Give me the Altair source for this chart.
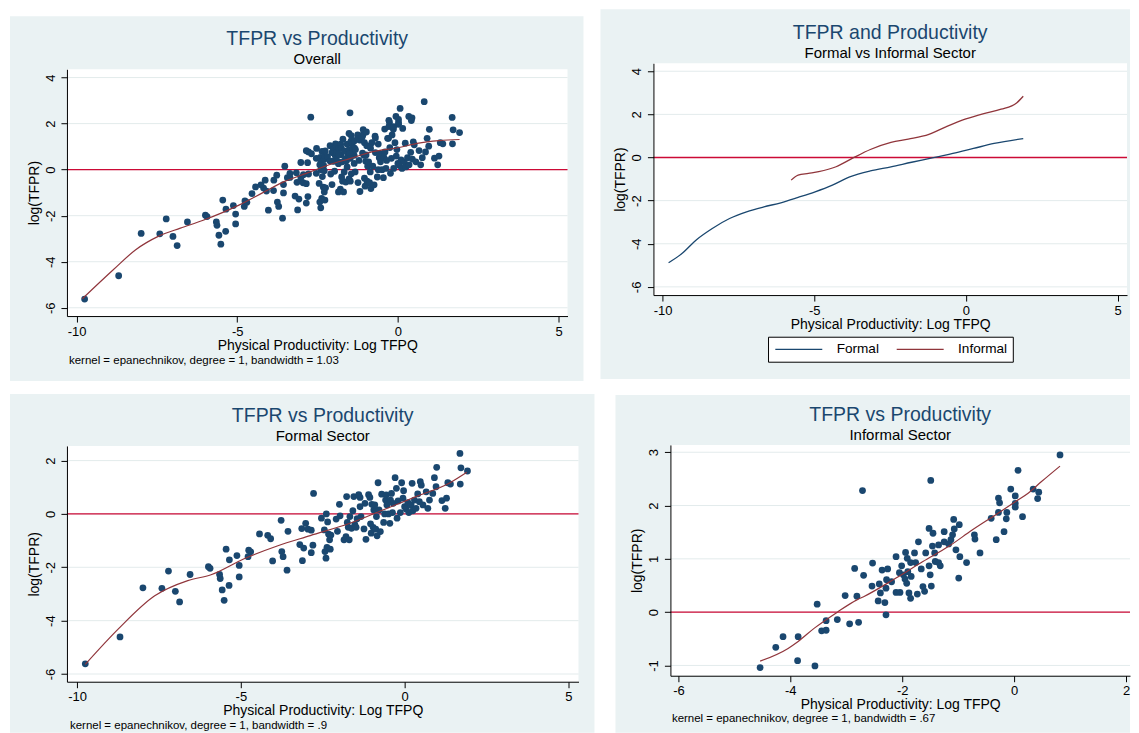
import altair as alt
import pandas as pd

# ---------------- data ----------------
FORMAL_X = [-9.75, -8.69, -7.99, -7.41, -7.21, -7.00, -6.87, -6.55, -5.99, -5.94, -5.65, -5.63,
            -5.57, -5.51, -5.45, -5.36, -5.35, -5.12, -5.05, -5.05, -4.78, -4.76, -4.70, -4.43,
            -4.18, -4.09, -4.03, -3.77, -3.75, -3.71, -3.59, -3.56, -3.20, -3.14, -3.12, -3.08,
            -3.02, -2.95, -2.85, -2.85, -2.80, -2.78, -2.54, -2.45, -2.43, -2.40, -2.39, -2.37,
            -2.35, -2.32, -2.29, -2.27, -2.25, -2.09, -2.05, -1.99, -1.97, -1.85, -1.79, -1.77,
            -1.75, -1.72, -1.69, -1.67, -1.62, -1.58, -1.55, -1.52, -1.48, -1.45, -1.40, -1.36,
            -1.36, -1.33, -1.24, -1.21, -1.18, -1.10, -1.06, -1.04, -1.02, -1.00, -0.96, -0.94,
            -0.91, -0.88, -0.86, -0.84, -0.81, -0.78, -0.74, -0.70, -0.64, -0.61, -0.58, -0.56,
            -0.54, -0.49, -0.45, -0.43, -0.40, -0.37, -0.35, -0.29, -0.25, -0.23, -0.20, -0.13,
            -0.09, -0.05, -0.03, 0.00, 0.05, 0.10, 0.13, 0.20, 0.23, 0.25, 0.30, 0.35, 0.40, 0.45,
            0.48, 0.51, 0.56, 0.66, 0.71, 0.76, 0.86, 0.91, 0.96, 0.98, 1.14, 1.24, 1.28, 1.32,
            1.40, 1.69, 1.70, 1.72, 1.92]
FORMAL_Y = [-5.62, -4.61, -2.77, -2.79, -2.14, -2.90, -3.30, -2.27, -1.98, -2.04, -2.27, -2.42,
            -2.85, -3.24, -1.32, -2.68, -1.72, -1.56, -1.93, -2.36, -1.60, -1.36, -1.42, -0.75,
            -0.80, -0.93, -1.76, -0.24, -1.41, -1.60, -2.11, -0.65, -1.15, -0.55, -1.75, -1.28,
            -0.35, -0.57, -0.61, -1.45, -1.17, 0.77, -0.16, -0.60, -1.41, -1.66, 0.00, -1.25,
            -0.30, -0.76, -0.97, -1.32, -0.79, -0.19, -0.65, 0.36, -0.07, -0.97, -0.85, 0.65,
            -0.32, -0.50, -0.97, -0.10, -0.54, 0.12, 0.65, -0.40, -0.50, -0.18, 0.72, 0.62,
            0.27, -0.10, -0.56, 0.40, -0.95, 0.72, 0.62, -0.37, -0.72, 0.36, -0.50, 0.15,
            0.34, -0.57, -0.10, -0.82, 1.17, 0.15, -0.66, 0.74, -0.32, 0.00, 0.52, 0.71,
            0.34, 0.00, -0.35, 0.52, 0.77, 0.05, 0.40, 1.36, 0.96, -0.16, 0.49, 0.05,
            1.17, 0.59, 0.87, 0.27, 0.18, 0.42, 0.05, 0.34, 1.15, 0.12, 0.52, 0.21, 0.75, 0.46,
            1.21, 1.08, 0.34, 0.83, 0.21, 0.52, 0.77, 1.36, 1.02, 1.75, 0.50, 0.21, 0.59, 1.17,
            1.12, 2.27, 1.12, 1.73, 1.61]

INFORMAL_X = [-4.54, -4.26, -4.13, -3.87, -3.86, -3.56, -3.52, -3.44, -3.36, -3.36, -3.16, -3.02,
              -2.94, -2.85, -2.81, -2.78, -2.71, -2.69, -2.53, -2.54, -2.43, -2.41, -2.39, -2.36,
              -2.31, -2.29, -2.29, -2.28, -2.26, -2.19, -2.11, -2.11, -2.04, -2.05, -2.01, -1.98,
              -1.95, -1.94, -1.92, -1.91, -1.90, -1.88, -1.85, -1.85, -1.84, -1.78, -1.76, -1.73,
              -1.71, -1.66, -1.63, -1.60, -1.58, -1.52, -1.52, -1.50, -1.48, -1.49, -1.46, -1.45,
              -1.42, -1.41, -1.35, -1.32, -1.35, -1.25, -1.25, -1.17, -1.13, -1.10, -1.07, -1.08,
              -1.04, -0.98, -0.97, -0.99, -0.85, -0.71, -0.70, -0.61, -0.41, -0.32, -0.28, -0.26,
              -0.28, -0.18, -0.14, -0.13, -0.06, 0.02, 0.02, 0.02, 0.07, 0.15, 0.34, 0.44, 0.42,
              0.82]
INFORMAL_Y = [-1.04, -0.66, -0.46, -0.91, -0.46, -1.01, 0.15, -0.35, -0.34, -0.16, -0.14, 0.31,
              -0.22, 0.82, 0.30, -0.19, 2.28, 0.69, 0.92, 0.49, 0.21, 0.53, 0.36, 0.79,
              0.18, -0.05, 0.45, 0.61, 0.81, 0.57, 1.04, 0.37, 0.37, 0.74, 0.87, 0.70,
              0.62, 1.12, 0.54, 1.01, 0.76, 0.36, 0.26, 0.93, 0.67, 1.11, 0.93, 0.34,
              1.32, 0.81, 0.48, 0.39, 1.11, 0.87, 1.57, 0.70, 0.49, 2.47, 1.24, 1.48,
              1.11, 0.95, 0.93, 0.87, 1.26, 1.51, 1.32, 1.28, 1.36, 1.45, 1.56, 1.74,
              1.17, 1.64, 1.04, 0.64, 0.93, 1.45, 1.37, 1.11, 1.76, 1.36, 2.14, 2.05,
              1.87, 1.51, 1.75, 1.87, 2.31, 2.18, 2.04, 1.97, 2.66, 1.79, 2.31, 2.25, 2.13,
              2.95]

# local-polynomial smooths
LOWESS_ALL_X = [-9.82, -8.85, -8.16, -7.46, -6.77, -6.08, -5.50, -4.93, -4.23, -3.54, -2.85,
                -2.16, -1.47, -0.78, 0.00, 0.60, 1.29, 1.92]
LOWESS_ALL_Y = [-5.61, -4.34, -3.48, -2.90, -2.54, -2.21, -1.89, -1.53, -1.02, -0.52, -0.16,
                0.20, 0.49, 0.78, 0.95, 1.14, 1.26, 1.31]
LOWESS_FORMAL_X = [-9.75, -8.74, -7.63, -6.62, -5.91, -4.90, -3.89, -2.88, -1.67, -0.66, 0.35,
                   1.36, 1.90]
LOWESS_FORMAL_Y = [-5.64, -4.31, -3.07, -2.50, -2.28, -1.68, -1.20, -0.81, -0.35, 0.15, 0.65,
                   1.15, 1.56]
LOWESS_INFORMAL_X = [-4.54, -4.04, -3.86, -3.57, -3.16, -2.81, -2.69, -2.11, -1.63, -1.16,
                     -0.75, -0.34, 0.02, 0.25, 0.49, 0.82]
LOWESS_INFORMAL_Y = [-0.92, -0.68, -0.55, -0.30, 0.00, 0.23, 0.29, 0.64, 0.95, 1.24,
                     1.54, 1.82, 2.07, 2.23, 2.45, 2.74]
CMP_FORMAL_X = [-9.80, -9.38, -8.87, -8.36, -7.79, -7.23, -6.66, -6.10, -5.53, -4.97, -4.40,
                -3.83, -3.15, -2.47, -1.79, -1.11, -0.43, 0.25, 0.93, 1.89]
CMP_FORMAL_Y = [-4.88, -4.48, -3.80, -3.29, -2.83, -2.52, -2.29, -2.10, -1.85, -1.59, -1.28,
                -0.90, -0.62, -0.43, -0.22, -0.02, 0.19, 0.42, 0.65, 0.88]
CMP_INFORMAL_X = [-5.76, -5.53, -5.19, -4.85, -4.28, -3.72, -3.15, -2.47, -1.90, -1.22, -0.66,
                  0.00, 0.59, 1.16, 1.67, 1.89]
CMP_INFORMAL_Y = [-1.05, -0.82, -0.74, -0.66, -0.43, -0.02, 0.37, 0.70, 0.85, 1.07, 1.42,
                  1.79, 2.04, 2.24, 2.53, 2.84]

SECTORS = ["Formal", "Informal"]
TICKS_X_WIDE = [-10, -5, 0, 5]
TICKS_Y_WIDE = [-6, -4, -2, 0, 2, 4]
TICKS_Y_FORMAL = [-6, -4, -2, 0, 2]
TICKS_X_INFORMAL = [-6, -4, -2, 0, 2]
TICKS_Y_INFORMAL = [-1, 0, 1, 2, 3]

TITLE_MAIN = "TFPR vs Productivity"
TITLE_CMP = "TFPR and Productivity"
SUB_ALL = "Overall"
SUB_CMP = "Formal vs Informal Sector"
SUB_FORMAL = "Formal Sector"
SUB_INFORMAL = "Informal Sector"
XTITLE = "Physical Productivity: Log TFPQ"
YTITLE = "log(TFPR)"
NOTE_ALL = "kernel = epanechnikov, degree = 1, bandwidth = 1.03"
NOTE_FORMAL = "kernel = epanechnikov, degree = 1, bandwidth = .9"
NOTE_INFORMAL = "kernel = epanechnikov, degree = 1, bandwidth = .67"

# ---------------- styling ----------------
NAVY = "#1A476F"
MAROON = "#90353B"
RED = "#CC0A36"
PANEL_BG = "#EAF2F3"
GRID = "#E3EBEC"
FONT = "Liberation Sans"

scatter_all = pd.DataFrame({"x": FORMAL_X + INFORMAL_X, "y": FORMAL_Y + INFORMAL_Y})
scatter_formal = pd.DataFrame({"x": FORMAL_X, "y": FORMAL_Y})
scatter_informal = pd.DataFrame({"x": INFORMAL_X, "y": INFORMAL_Y})
line_all = pd.DataFrame({"x": LOWESS_ALL_X, "y": LOWESS_ALL_Y})
line_formal = pd.DataFrame({"x": LOWESS_FORMAL_X, "y": LOWESS_FORMAL_Y})
line_informal = pd.DataFrame({"x": LOWESS_INFORMAL_X, "y": LOWESS_INFORMAL_Y})
line_cmp = pd.DataFrame({
    "x": CMP_FORMAL_X + CMP_INFORMAL_X,
    "y": CMP_FORMAL_Y + CMP_INFORMAL_Y,
    "sector": [SECTORS[0]] * len(CMP_FORMAL_X) + [SECTORS[1]] * len(CMP_INFORMAL_X),
})
one = pd.DataFrame({"k": [0]})


def x_axis(ticks, dy):
    return alt.Axis(values=ticks, grid=False, domainColor="black", domainWidth=1,
                    tickColor="black", tickSize=6, tickWidth=1, offset=dy,
                    labelFont=FONT, labelFontSize=13, labelColor="black", labelPadding=3,
                    labelExpr="'' + datum.value", labelFlush=False, labelOverlap=False,
                    title=XTITLE, titleFont=FONT, titleFontSize=14, titleFontWeight="normal",
                    titleColor="black", titlePadding=0, zindex=1)


def y_axis(ticks):
    return alt.Axis(values=ticks, grid=False, domainColor="black", domainWidth=1,
                    tickColor="black", tickSize=6, tickWidth=1,
                    labelFont=FONT, labelFontSize=13, labelColor="black", labelPadding=3.5,
                    labelAngle=270, labelAlign="center", labelBaseline="bottom",
                    labelExpr="'' + datum.value", labelFlush=False, labelOverlap=False,
                    title=YTITLE, titleFont=FONT, titleFontSize=14, titleFontWeight="normal",
                    titleColor="black", titlePadding=3, zindex=1)


def panel(w, h, dy, xdom, ydom, xticks, yticks, cell, bg, title, subtitle, layers_fn, note=None):
    # dy shifts the drawn plot relative to the view frame (rows share frame origins)
    xs = alt.Scale(domain=xdom, nice=False, zero=False)
    ys = alt.Scale(domain=ydom, nice=False, zero=False, range=[h + dy, dy])

    def X(f="x"):
        return alt.X(f + ":Q", scale=xs, axis=x_axis(xticks, dy))

    def Y(f="y"):
        return alt.Y(f + ":Q", scale=ys, axis=y_axis(yticks))

    cell_rect = alt.Chart(one).mark_rect(fill="white").encode(
        x=alt.value(cell[0]), x2=alt.value(cell[1]), y=alt.value(cell[2]), y2=alt.value(cell[3]))
    bg_rect = alt.Chart(one).mark_rect(fill=PANEL_BG).encode(
        x=alt.value(bg[0]), x2=alt.value(bg[1]), y=alt.value(bg[2]), y2=alt.value(bg[3]))
    plot_rect = alt.Chart(one).mark_rect(fill="white").encode(
        x=alt.value(0), x2=alt.value(w), y=alt.value(dy), y2=alt.value(h + dy))
    grid = alt.Chart(pd.DataFrame({"y": yticks})).mark_rule(color=GRID, strokeWidth=1).encode(y=Y())
    zero = alt.Chart(pd.DataFrame({"y": [0]})).mark_rule(color=RED, strokeWidth=1.3).encode(y=Y())

    texts = [
        alt.Chart(one).mark_text(text=title, font=FONT, fontSize=19.5, color=NAVY,
                                 align="center", baseline="alphabetic").encode(
            x=alt.value(w / 2), y=alt.value(-24 + dy)),
        alt.Chart(one).mark_text(text=subtitle, font=FONT, fontSize=15, color="black",
                                 align="center", baseline="alphabetic").encode(
            x=alt.value(w / 2), y=alt.value(-5 + dy)),
    ]
    if note is not None:
        texts.append(alt.Chart(one).mark_text(text=note[0], font=FONT, fontSize=11.5, color="black",
                                              align="left", baseline="alphabetic").encode(
            x=alt.value(note[1]), y=alt.value(note[2] + dy)))

    layers = [cell_rect, bg_rect, plot_rect, grid, zero] + layers_fn(X, Y, dy) + texts
    return alt.layer(*layers).properties(width=w, height=h)


def scatter_with_line(pts, ln):
    def fn(X, Y, dy):
        return [
            alt.Chart(pts).mark_circle(size=46, color=NAVY, opacity=1).encode(x=X(), y=Y()),
            alt.Chart(ln).mark_line(color=MAROON, strokeWidth=1.2, interpolate="monotone").encode(
                x=X(), y=Y()),
        ]
    return fn


def cmp_lines(X, Y, dy):
    return [
        alt.Chart(line_cmp).mark_line(strokeWidth=1.3, interpolate="monotone").encode(
            x=X(), y=Y(),
            color=alt.Color("sector:N",
                            scale=alt.Scale(domain=SECTORS, range=[NAVY, MAROON]),
                            legend=alt.Legend(title=None, orient="none", legendX=114.7,
                                              legendY=273.7 + dy,
                                              direction="horizontal",
                                              symbolType="M-1,0H8.4", symbolSize=100,
                                              symbolStrokeWidth=1.3,
                                              labelFont=FONT, labelFontSize=13.6,
                                              labelColor="black", labelOffset=49.6,
                                              columnPadding=14.5, padding=5.5,
                                              strokeColor="black", fillColor="white",
                                              cornerRadius=0)),
        )
    ]


tl = panel(501, 247, 0, [-10.30, 5.28], [-6.36, 4.36], TICKS_X_WIDE, TICKS_Y_WIDE,
           cell=(-59, 534, -61, 319), bg=(-57, 517, -53, 312),
           title=TITLE_MAIN, subtitle=SUB_ALL,
           layers_fn=scatter_with_line(scatter_all, line_all),
           note=(NOTE_ALL, 2, 295))

tr = panel(474, 232, -6, [-10.30, 5.31], [-6.38, 4.37], TICKS_X_WIDE, TICKS_Y_WIDE,
           cell=(-53, 477, -61, 319), bg=(-53, 477, -60, 310),
           title=TITLE_CMP, subtitle=SUB_CMP, layers_fn=cmp_lines)

bl = panel(512, 236, 0, [-10.31, 5.31], [-6.29, 2.55], TICKS_X_WIDE, TICKS_Y_FORMAL,
           cell=(-59, 534, -58, 287), bg=(-57, 528, -52, 287),
           title=TITLE_MAIN, subtitle=SUB_FORMAL,
           layers_fn=scatter_with_line(scatter_formal, line_formal),
           note=(NOTE_FORMAL, 3, 283))

br = panel(460, 231, -1, [-6.143, 2.071], [-1.193, 3.137], TICKS_X_INFORMAL, TICKS_Y_INFORMAL,
           cell=(-70, 460, -58, 287), bg=(-55, 460, -51, 287),
           title=TITLE_MAIN, subtitle=SUB_INFORMAL,
           layers_fn=scatter_with_line(scatter_informal, line_informal),
           note=(NOTE_INFORMAL, 1.5, 277))

top_row = alt.hconcat(tl, tr, spacing=0).resolve_scale(color="independent").resolve_legend(color="independent")
bottom_row = alt.hconcat(bl, br, spacing=0)

chart = alt.vconcat(top_row, bottom_row, spacing=0).resolve_scale(
    color="independent").resolve_legend(color="independent").properties(
    padding=0, background="white").configure_view(strokeWidth=0)

chart.save("out.html", embed_options={"renderer": "svg", "actions": False})
